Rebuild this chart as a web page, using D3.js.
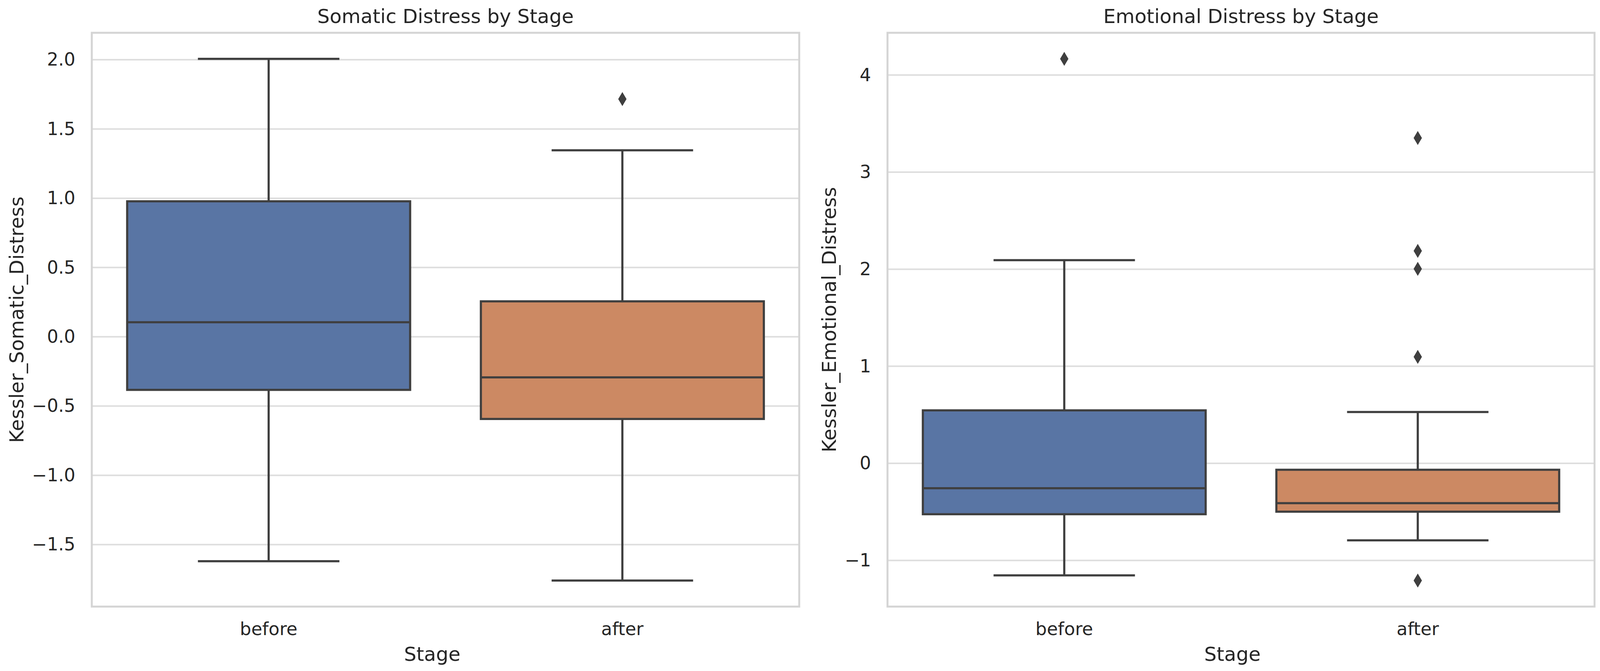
<!DOCTYPE html>
<html>
<head>
<meta charset="utf-8">
<script src="https://cdn.jsdelivr.net/npm/d3@7"></script>
<style>
  html, body { margin: 0; padding: 0; background: #ffffff; }
  svg { display: block; }
  text { font-family: "DejaVu Sans", sans-serif; fill: #262626; }
</style>
</head>
<body>
<svg id="chart" width="4102" height="1719"></svg>
<script>
// ---------- data ----------
const stages = ["before", "after"];

// Somatic distress box statistics per stage
const somaticLowWhisker  = [-1.62, -1.759];
const somaticQ1          = [-0.383, -0.593];
const somaticMedian      = [0.105, -0.293];
const somaticQ3          = [0.978, 0.256];
const somaticHighWhisker = [2.006, 1.346];
const somaticOutliers    = [[], [1.716]];
const somaticTicks       = [-1.5, -1.0, -0.5, 0.0, 0.5, 1.0, 1.5, 2.0];

// Emotional distress box statistics per stage
const emotionalLowWhisker  = [-1.154, -0.793];
const emotionalQ1          = [-0.524, -0.498];
const emotionalMedian      = [-0.256, -0.41];
const emotionalQ3          = [0.546, -0.066];
const emotionalHighWhisker = [2.093, 0.529];
const emotionalOutliers    = [[4.167], [3.352, 2.189, 2.004, 1.097, -1.207]];
const emotionalTicks       = [-1, 0, 1, 2, 3, 4];

const boxColors = ["#5975a4", "#cc8963"];
const lineGray = "#3f3f3f";

// ---------- layout ----------
const svg = d3.select("#chart");
const plotTop = 84, plotBottom = 1554;
const panels = [
  {
    left: 235, right: 2046,
    title: "Somatic Distress by Stage",
    ylabel: "Kessler_Somatic_Distress",
    ylabelX: 60, xlabelShift: -34,
    low: somaticLowWhisker, q1: somaticQ1, med: somaticMedian, q3: somaticQ3,
    high: somaticHighWhisker, out: somaticOutliers, ticks: somaticTicks,
    fmt: d => d3.format(".1f")(d).replace("-", "\u2212")
  },
  {
    left: 2272, right: 4082,
    title: "Emotional Distress by Stage",
    ylabel: "Kessler_Emotional_Distress",
    ylabelX: 2140, xlabelShift: -22,
    low: emotionalLowWhisker, q1: emotionalQ1, med: emotionalMedian, q3: emotionalQ3,
    high: emotionalHighWhisker, out: emotionalOutliers, ticks: emotionalTicks,
    fmt: d => d3.format("d")(d).replace("-", "\u2212")
  }
];

const tickFont = 45.8, labelFont = 50;

panels.forEach(p => {
  const allVals = [...p.low, ...p.high, ...p.out.flat()];
  const mn = d3.min(allVals), mx = d3.max(allVals);
  const pad = (mx - mn) * 0.05;
  const y = d3.scaleLinear().domain([mn - pad, mx + pad]).range([plotBottom, plotTop]);
  const x = d3.scaleBand().domain(stages).range([p.left, p.right]).paddingInner(0).paddingOuter(0);
  const bw = x.bandwidth();
  const boxW = bw * 0.8;
  const capW = boxW * 0.5;

  const g = svg.append("g");

  // grid lines
  g.append("g").selectAll("line").data(p.ticks).join("line")
    .attr("x1", p.left).attr("x2", p.right)
    .attr("y1", d => y(d)).attr("y2", d => y(d))
    .attr("stroke", "#dedede").attr("stroke-width", 4);

  // y axis
  const yAxis = g.append("g").attr("transform", `translate(${p.left},0)`)
    .call(d3.axisLeft(y).tickValues(p.ticks).tickSize(0).tickPadding(42).tickFormat(p.fmt));
  yAxis.select(".domain").remove();
  yAxis.selectAll("text").attr("font-size", tickFont).style("font-family", "DejaVu Sans").attr("fill", "#262626");

  // x axis
  const xAxis = g.append("g").attr("transform", `translate(0,${plotBottom})`)
    .call(d3.axisBottom(x).tickSize(0).tickPadding(40.5));
  xAxis.select(".domain").remove();
  xAxis.selectAll("text").attr("font-size", tickFont).style("font-family", "DejaVu Sans").attr("fill", "#262626");

  // boxes
  stages.forEach((s, i) => {
    const cx = x(s) + bw / 2;
    const bg = g.append("g");
    // whiskers
    bg.append("line").attr("x1", cx).attr("x2", cx).attr("y1", y(p.q3[i])).attr("y2", y(p.high[i]))
      .attr("stroke", lineGray).attr("stroke-width", 5.5);
    bg.append("line").attr("x1", cx).attr("x2", cx).attr("y1", y(p.q1[i])).attr("y2", y(p.low[i]))
      .attr("stroke", lineGray).attr("stroke-width", 5.5);
    // caps
    bg.append("line").attr("x1", cx - capW / 2).attr("x2", cx + capW / 2)
      .attr("y1", y(p.high[i])).attr("y2", y(p.high[i]))
      .attr("stroke", lineGray).attr("stroke-width", 5.5);
    bg.append("line").attr("x1", cx - capW / 2).attr("x2", cx + capW / 2)
      .attr("y1", y(p.low[i])).attr("y2", y(p.low[i]))
      .attr("stroke", lineGray).attr("stroke-width", 5.5);
    // box
    bg.append("rect").attr("x", cx - boxW / 2).attr("width", boxW)
      .attr("y", y(p.q3[i])).attr("height", y(p.q1[i]) - y(p.q3[i]))
      .attr("fill", boxColors[i]).attr("stroke", lineGray).attr("stroke-width", 5.5);
    // median
    bg.append("line").attr("x1", cx - boxW / 2).attr("x2", cx + boxW / 2)
      .attr("y1", y(p.med[i])).attr("y2", y(p.med[i]))
      .attr("stroke", lineGray).attr("stroke-width", 5.5);
    // outliers (thin diamonds)
    const hh = 16, hw = 9.5;
    bg.selectAll("path.flier").data(p.out[i]).join("path")
      .attr("class", "flier")
      .attr("d", d => `M${cx},${y(d) - hh} L${cx + hw},${y(d)} L${cx},${y(d) + hh} L${cx - hw},${y(d)} Z`)
      .attr("fill", lineGray).attr("stroke", lineGray).attr("stroke-width", 2);
  });

  // frame
  g.append("rect").attr("x", p.left).attr("y", plotTop)
    .attr("width", p.right - p.left).attr("height", plotBottom - plotTop)
    .attr("fill", "none").attr("stroke", "#d4d4d4").attr("stroke-width", 5);

  // title
  g.append("text").attr("x", (p.left + p.right) / 2).attr("y", 59)
    .attr("text-anchor", "middle").attr("font-size", labelFont).text(p.title);
  // x label
  g.append("text").attr("x", (p.left + p.right) / 2 + p.xlabelShift).attr("y", 1693)
    .attr("text-anchor", "middle").attr("font-size", labelFont).text("Stage");
  // y label
  g.append("text").attr("transform", `translate(${p.ylabelX},${(plotTop + plotBottom) / 2}) rotate(-90)`)
    .attr("text-anchor", "middle").attr("font-size", labelFont).text(p.ylabel);
});
</script>
</body>
</html>
